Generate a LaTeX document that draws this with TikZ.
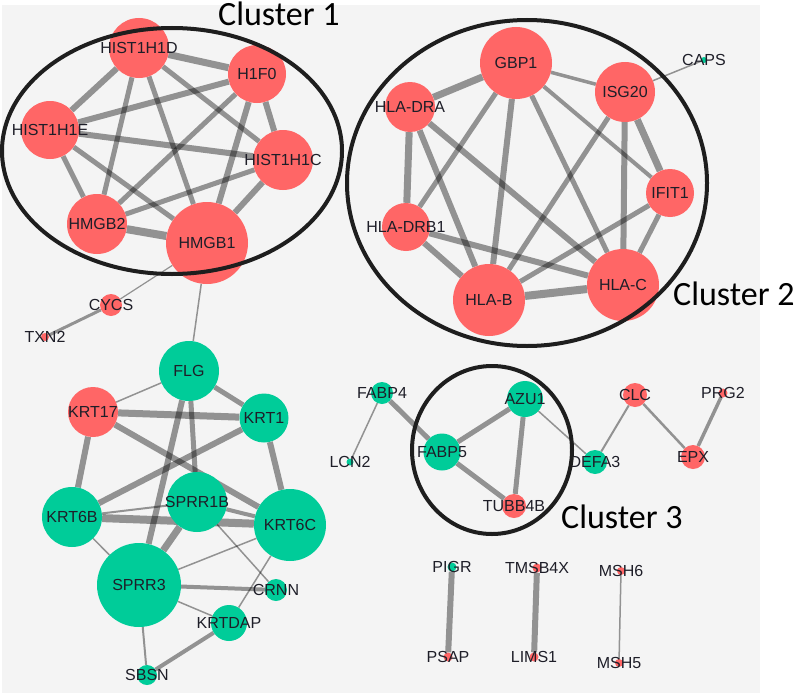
\documentclass[tikz,border=0pt]{standalone}
\usepackage{fontspec}
\newfontfamily\labfamily{Liberation Sans}
\newfontfamily\clfamily{Carlito}
\definecolor{bggrey}{HTML}{F4F4F4}
\definecolor{nodered}{HTML}{FF6666}
\definecolor{nodegreen}{HTML}{00CC99}
\definecolor{labcol}{HTML}{1E1E28}
\definecolor{ringcol}{HTML}{1E1E1E}
\pgfdeclarelayer{bglayer}
\pgfdeclarelayer{edgelayer}
\pgfsetlayers{bglayer,edgelayer,main}
\tikzset{
  lab/.style={font=\labfamily\fontsize{16}{16}\selectfont, text=labcol, inner sep=0},
  rn/.style={circle, fill=nodered, draw=none, inner sep=0, minimum size=#1},
  gn/.style={circle, fill=nodegreen, draw=none, inner sep=0, minimum size=#1},
  ed/.style={line width=#1, draw=black, draw opacity=0.4},
  ring/.style={line width=4, draw=ringcol},
  cltext/.style={font=\clfamily\fontsize{34}{34}\selectfont, anchor=base west, inner sep=0, text=black},
}
\newcommand{\gene}[5]{\node[#1=#2, label={[lab]center:#5}] (#3) at #4 {};}
\begin{document}
\begin{tikzpicture}[x=1pt,y=-1pt]
\useasboundingbox (0,0) rectangle (797,693);
\begin{pgfonlayer}{bglayer}
\fill[bggrey] (2,5) rectangle (760,693);
\end{pgfonlayer}
% Cluster 1
\gene{rn}{60}{d}{(139,48)}{HIST1H1D}
\gene{rn}{58}{f}{(257,74)}{H1F0}
\gene{rn}{58}{e}{(50,130)}{HIST1H1E}
\gene{rn}{60}{c}{(283,160)}{HIST1H1C}
\gene{rn}{60}{mtwo}{(97,224)}{HMGB2}
\gene{rn}{82}{mone}{(207,243)}{HMGB1}
% Cluster 2
\gene{rn}{72}{g}{(516,63)}{GBP1}
\gene{rn}{60}{i}{(625,92)}{ISG20}
\gene{rn}{50}{dra}{(410,107)}{HLA-DRA}
\gene{rn}{48}{t}{(670,193)}{IFIT1}
\gene{rn}{48}{drb}{(406,227)}{HLA-DRB1}
\gene{rn}{72}{hb}{(489,300)}{HLA-B}
\gene{rn}{72}{hc}{(623,285)}{HLA-C}
\gene{gn}{6}{caps}{(704,60)}{CAPS}
% left group
\gene{rn}{22}{cycs}{(111,305)}{CYCS}
\gene{rn}{8}{txn}{(45,337)}{TXN2}
\gene{gn}{60}{flg}{(189,371)}{FLG}
\gene{rn}{50}{kseventeen}{(93,412)}{KRT17}
\gene{gn}{49}{kone}{(264,418)}{KRT1}
\gene{gn}{60}{ksixb}{(72,517)}{KRT6B}
\gene{gn}{60}{sone}{(197,502)}{SPRR1B}
\gene{gn}{72}{ksixc}{(290,525)}{KRT6C}
\gene{gn}{84}{sthree}{(139,585)}{SPRR3}
\gene{gn}{22}{crnn}{(276,590)}{CRNN}
\gene{gn}{36}{kdap}{(229,623)}{KRTDAP}
\gene{gn}{20}{sbsn}{(147,675)}{SBSN}
% right group
\gene{gn}{22}{fabpfour}{(382,393)}{FABP4}
\gene{gn}{7}{lcn}{(350,462)}{LCN2}
\gene{gn}{37}{fabpfive}{(442,452)}{FABP5}
\gene{gn}{36}{azu}{(525,399)}{AZU1}
\gene{rn}{24}{tubb}{(514,506)}{TUBB4B}
\gene{gn}{24}{defa}{(595,462)}{DEFA3}
\gene{rn}{24}{clc}{(635,395)}{CLC}
\gene{rn}{24}{epx}{(693,457)}{EPX}
\gene{rn}{9}{prg}{(723,393)}{PRG2}
% bottom pairs
\gene{gn}{9}{pigr}{(452,567)}{PIGR}
\gene{rn}{9}{psap}{(448,657)}{PSAP}
\gene{rn}{9}{tmsb}{(537,568)}{TMSB4X}
\gene{rn}{9}{lims}{(534,657)}{LIMS1}
\gene{rn}{8}{msh6}{(621,571)}{MSH6}
\gene{rn}{8}{msh5}{(619,663)}{MSH5}
\begin{pgfonlayer}{edgelayer}
% cluster 1
\draw[ed=7] (d) -- (f);
\draw[ed=6] (d) -- (e);
\draw[ed=5] (d) -- (mtwo);
\draw[ed=5] (d) -- (mone);
\draw[ed=5] (d) -- (c);
\draw[ed=6] (f) -- (e);
\draw[ed=5] (f) -- (mtwo);
\draw[ed=6] (f) -- (mone);
\draw[ed=6] (f) -- (c);
\draw[ed=6] (e) -- (c);
\draw[ed=5] (e) -- (mtwo);
\draw[ed=5] (e) -- (mone);
\draw[ed=5] (c) -- (mtwo);
\draw[ed=6] (c) -- (mone);
\draw[ed=8] (mtwo) -- (mone);
% cluster 2
\draw[ed=7] (g) -- (dra);
\draw[ed=3.5] (g) -- (i);
\draw[ed=5] (g) -- (drb);
\draw[ed=6] (g) -- (hb);
\draw[ed=5] (g) -- (hc);
\draw[ed=4] (g) -- (t);
\draw[ed=7] (dra) -- (drb);
\draw[ed=6] (dra) -- (hb);
\draw[ed=6] (dra) -- (hc);
\draw[ed=5] (i) -- (hb);
\draw[ed=6] (i) -- (hc);
\draw[ed=7] (i) -- (t);
\draw[ed=5] (t) -- (hb);
\draw[ed=5] (t) -- (hc);
\draw[ed=6] (drb) -- (hb);
\draw[ed=6] (drb) -- (hc);
\draw[ed=8] (hb) -- (hc);
\draw[ed=1.5] (i) -- (caps);
% left group
\draw[ed=1.2] (mone) -- (cycs);
\draw[ed=1.5] (mone) -- (flg);
\draw[ed=3] (cycs) -- (txn);
\draw[ed=1.5] (flg) -- (kseventeen);
\draw[ed=5] (flg) -- (kone);
\draw[ed=5] (flg) -- (sone);
\draw[ed=6] (flg) -- (sthree);
\draw[ed=7] (kseventeen) -- (kone);
\draw[ed=6] (kseventeen) -- (ksixb);
\draw[ed=6] (kseventeen) -- (ksixc);
\draw[ed=6] (kone) -- (ksixb);
\draw[ed=6] (kone) -- (ksixc);
\draw[ed=8] (ksixb) -- (ksixc);
\draw[ed=2] (ksixb) -- (sone);
\draw[ed=1.5] (ksixb) -- (sthree);
\draw[ed=4] (sone) -- (ksixc);
\draw[ed=7] (sone) -- (sthree);
\draw[ed=1.5] (sone) -- (crnn);
\draw[ed=1.5] (sthree) -- (ksixc);
\draw[ed=4] (sthree) -- (crnn);
\draw[ed=1.5] (sthree) -- (kdap);
\draw[ed=2] (sthree) -- (sbsn);
\draw[ed=4] (kdap) -- (sbsn);
\draw[ed=1.5] (kdap) -- (ksixc);
% right group
\draw[ed=1.5] (fabpfour) -- (lcn);
\draw[ed=5] (fabpfour) -- (fabpfive);
\draw[ed=5] (fabpfive) -- (azu);
\draw[ed=5] (fabpfive) -- (tubb);
\draw[ed=5] (azu) -- (tubb);
\draw[ed=1.5] (azu) -- (defa);
\draw[ed=2] (defa) -- (clc);
\draw[ed=2.5] (clc) -- (epx);
\draw[ed=3.5] (epx) -- (prg);
% bottom
\draw[ed=6] (pigr) -- (psap);
\draw[ed=6] (tmsb) -- (lims);
\draw[ed=1.5] (msh6) -- (msh5);
\end{pgfonlayer}
% cluster rings
\node[draw=none, minimum size=0, inner sep=0] (ringone) at (172,151) {};
\draw[ring] (ringone) ellipse [x radius=170, y radius=123];
\node[draw=none, minimum size=0, inner sep=0] (ringtwo) at (527,183) {};
\draw[ring] (ringtwo) ellipse [x radius=180, y radius=163];
\node[draw=none, minimum size=0, inner sep=0] (ringthree) at (492,450) {};
\draw[ring] (ringthree) ellipse [x radius=80, y radius=84];
\node[cltext] (clone) at (218,26) {Cluster 1};
\node[cltext] (cltwo) at (673,305) {Cluster 2};
\node[cltext] (clthree) at (561,528) {Cluster 3};
\end{tikzpicture}
\end{document}
